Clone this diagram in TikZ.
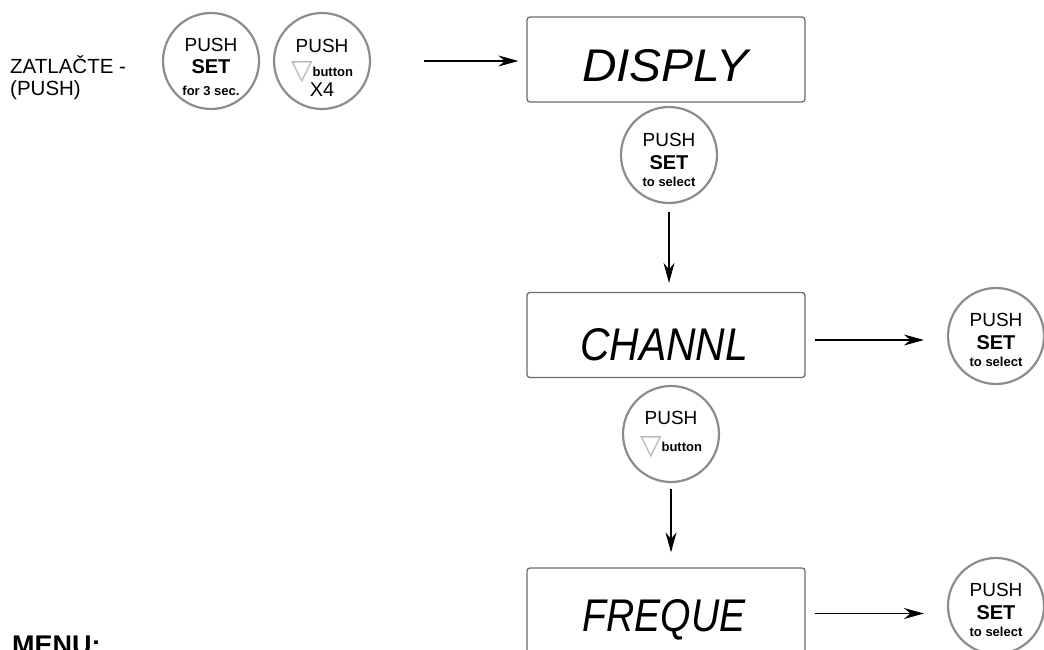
\documentclass[tikz,border=0pt]{standalone}
\usepackage{fontspec}
\setmainfont{Liberation Sans}
\newfontfamily\symfont{DejaVu Sans}
\usetikzlibrary{arrows.meta,positioning}
\definecolor{rimgray}{gray}{0.55}
\definecolor{boxgray}{gray}{0.42}
\definecolor{trigray}{gray}{0.72}
\newcommand{\downtri}{\smash{\raisebox{-3pt}{\symfont\fontsize{28}{28}\selectfont\color{trigray}▽}}}

\begin{document}
\begin{tikzpicture}[x=1pt,y=-1pt,
    btn/.style={circle,draw=rimgray,line width=2.2pt,minimum size=96pt,inner sep=0pt},
    btntxt/.style={align=center,inner sep=0pt,font=\fontsize{19}{22}\selectfont},
    lcd/.style={draw=boxgray,line width=1.3pt,rounded corners=3pt,minimum width=278pt,minimum height=85pt,inner sep=0pt},
    lcdtxt/.style={inner sep=0pt,font=\fontsize{44}{44}\selectfont\itshape},
    go/.style={-{Stealth[length=20pt,width=11pt]},line width=1.1pt}]
  \useasboundingbox (0,0) rectangle (1044,650);

  % left column
  \node[anchor=base west,align=left,inner sep=0pt,font=\fontsize{20.5}{22}\selectfont] (push) at (10,96) {ZATLAČTE -\\(PUSH)};
  \node[anchor=base west,inner sep=0pt,font=\bfseries\fontsize{27}{27}\selectfont] (menu) at (12,654) {MENU:};

  \node[btn] (setbtn) at (211,61) {};
  \node[btntxt] (setbtntxt) at ([yshift=-6pt]setbtn.center) {PUSH\\{\bfseries\fontsize{20}{22}\selectfont SET}\\{\bfseries\fontsize{13}{13}\selectfont for 3 sec.}};
  \node[btn] (downbtn) at (322,61) {};
  \node[btntxt] (downbtntxt) at ([yshift=-6.5pt]downbtn.center) {PUSH\\[2pt]{\downtri\bfseries\fontsize{13}{13}\selectfont button}\\[-2pt]{\fontsize{20}{22}\selectfont X4}};

  % displays
  \node[lcd] (display) at (666,59.5) {};
  \node[lcdtxt] (displaytxt) at (665,66) {\resizebox{166pt}{32pt}{DISPLY}};
  \node[lcd] (channel) at (666,335) {};
  \node[lcdtxt] (channeltxt) at (664,345) {\resizebox{168pt}{32pt}{CHANNL}};
  \node[lcd] (freq) at (666,610.5) {};
  \node[lcdtxt] (freqtxt) at (664,620) {\resizebox{163pt}{32pt}{FREQUE}};

  % push buttons of the menu
  \node[btn] (seldisp) at (669,155) {};
  \node[btntxt] (seldisptxt) at ([yshift=-4.5pt]seldisp.center) {PUSH\\[1pt]{\bfseries\fontsize{20}{22}\selectfont SET}\\[-5pt]{\bfseries\fontsize{13}{13}\selectfont to select}};
  \node[btn] (nextbtn) at (671,434) {};
  \node[btntxt] (nextbtntxt) at ([yshift=3pt]nextbtn.center) {PUSH\\[5pt]{\downtri\bfseries\fontsize{13}{13}\selectfont button}};
  \node[btn] (selchan) at (996,336) {};
  \node[btntxt] (selchantxt) at ([yshift=-4pt]selchan.center) {PUSH\\[1pt]{\bfseries\fontsize{20}{22}\selectfont SET}\\[-5pt]{\bfseries\fontsize{13}{13}\selectfont to select}};
  \node[btn] (selfreq) at (996,606) {};
  \node[btntxt] (selfreqtxt) at ([yshift=-4pt]selfreq.center) {PUSH\\[1pt]{\bfseries\fontsize{20}{22}\selectfont SET}\\[-5pt]{\bfseries\fontsize{13}{13}\selectfont to select}};

  % arrows
  \draw[go,shorten <=53pt,shorten >=8pt] (downbtn.east) -- (downbtn.east -| display.west);
  \draw[go,shorten <=8pt,shorten >=9pt] (seldisp.south) -- (seldisp.south |- channel.north);
  \draw[go,shorten <=6pt,shorten >=15pt] (nextbtn.south) -- (nextbtn.south |- freq.north);
  \draw[go,shorten <=9pt,shorten >=23pt] ([yshift=-5pt]channel.east) -- ([yshift=-5pt]channel.east -| selchan.west);
  \draw[go,shorten <=9pt,shorten >=23pt] ([yshift=-3pt]freq.east) -- ([yshift=-3pt]freq.east -| selfreq.west);
\end{tikzpicture}
\end{document}
